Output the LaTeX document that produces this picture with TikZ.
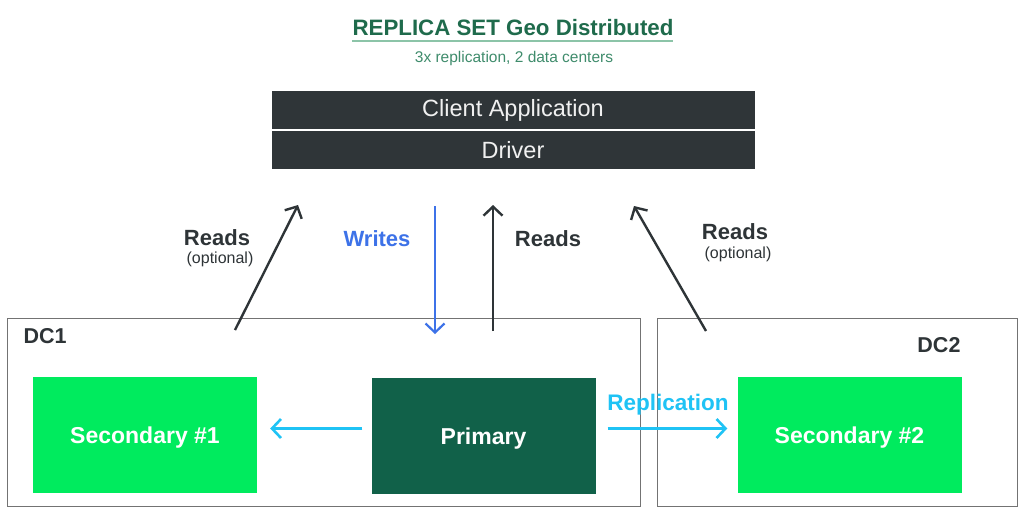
\documentclass[tikz,border=0pt]{standalone}
\usepackage{fontspec}
\setmainfont{Liberation Sans}
\usetikzlibrary{positioning,arrows.meta}

\definecolor{titlegreen}{HTML}{1F6B4C}
\definecolor{subgreen}{HTML}{3F8C6C}
\definecolor{linegreen}{HTML}{8CC4A8}
\definecolor{slate}{HTML}{2F3538}
\definecolor{brightgreen}{HTML}{00EB5E}
\definecolor{forest}{HTML}{116149}
\definecolor{repcyan}{HTML}{1FC3F5}
\definecolor{writeblue}{HTML}{3D72E8}
\definecolor{inkgray}{HTML}{2E3437}

\tikzset{
  clientbox/.style={fill=slate, draw=white, line width=0.8pt, text=white!88!gray,
    minimum width=484, minimum height=39, inner sep=0pt, font=\fontsize{23.5}{26}\selectfont},
  dcbox/.style={draw=gray!90!black, line width=1pt, inner sep=0pt},
  memberbox/.style={text=white, minimum width=224, minimum height=116, inner sep=0pt,
    text height=17pt, text depth=0pt, font=\fontsize{23}{26}\selectfont\bfseries},
  dclabel/.style={text=inkgray, font=\fontsize{21.5}{24}\selectfont\bfseries},
  readarrow/.style={-{Straight Barb[length=9pt,width=19pt]}, draw=inkgray, line width=2.4pt},
  writearrow/.style={-{Straight Barb[length=9pt,width=19pt]}, draw=writeblue, line width=2.2pt},
  reparrow/.style={-{Straight Barb[length=9pt,width=19pt]}, draw=repcyan, line width=2.6pt},
  readlabel/.style={text=inkgray, font=\fontsize{22}{24}\selectfont\bfseries},
  optlabel/.style={text=inkgray, font=\fontsize{16}{18}\selectfont},
}

\begin{document}
\begin{tikzpicture}[x=1pt,y=-1pt]
\useasboundingbox[fill=white] (0,0) rectangle (1024,515);

% Titel
\node[text=titlegreen, font=\fontsize{22.3}{24}\selectfont\bfseries] (title) at (513,28) {REPLICA SET Geo Distributed};
\draw[linegreen, line width=2pt] (352,41) -- (673,41);
\node[text=subgreen, font=\fontsize{15.5}{17}\selectfont] (subtitle) at (514,58) {3x replication, 2 data centers};

% Client und Treiber
\node[clientbox] (client) at (513,110) {Client Application};
\node[clientbox, below=0pt of client, text height=17pt, text depth=0pt] (driver) {Driver};

% Rechenzentren
\node[dcbox, minimum width=633, minimum height=188] (dc1) at (323.5,412) {};
\node[dcbox, minimum width=360, minimum height=188] (dc2) at (837,412) {};
\node[dclabel, anchor=west] (dc1lbl) at (20,336) {DC1};
\node[dclabel, anchor=east] (dc2lbl) at (964,345) {DC2};

% Replika-Mitglieder
\node[memberbox, fill=brightgreen] (sec1) at (145,434.5) {Secondary \#1};
\node[memberbox, fill=forest] (primary) at (483.5,435.5) {Primary};
\node[memberbox, fill=brightgreen] (sec2) at (849.5,434.5) {Secondary \#2};

% Replikation
\draw[reparrow] ([shift={(-9,-7)}]primary.west) -- ([shift={(13,-6)}]sec1.east);
\draw[reparrow] ([shift={(12,-7)}]primary.east) -- ([shift={(-10,-6)}]sec2.west);
\node[text=repcyan, font=\fontsize{22.5}{24}\selectfont\bfseries] (replbl) at (668,405) {Replication};

% Lesen und Schreiben
\coordinate (wstart) at (435,206);
\coordinate (wend) at (435,334);
\coordinate (rcstart) at (493,331);
\coordinate (rcend) at (493,205);
\coordinate (rlstart) at (235,330);
\coordinate (rlend) at (298,205);
\coordinate (rrstart) at (706,331);
\coordinate (rrend) at (634,206);

\draw[writearrow] (wstart) -- (wend);
\draw[readarrow] (rcstart) -- (rcend);
\draw[readarrow] (rlstart) -- (rlend);
\draw[readarrow] (rrstart) -- (rrend);

\node[text=writeblue, font=\fontsize{22}{24}\selectfont\bfseries] (writeslbl) at (377,239) {Writes};
\node[readlabel] (readsc) at (548,239) {Reads};
\node[readlabel] (readsl) at (217,238) {Reads};
\node[optlabel] (optl) at (220,259) {(optional)};
\node[readlabel] (readsr) at (735,232) {Reads};
\node[optlabel] (optr) at (738,254) {(optional)};

\end{tikzpicture}
\end{document}
